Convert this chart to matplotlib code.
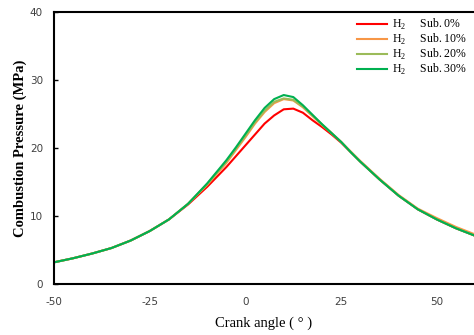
import matplotlib
matplotlib.use("Agg")
import matplotlib.pyplot as plt

# crank angle (deg) and combustion pressure (MPa)
angle = [-50, -45, -40, -35, -30, -25, -20, -15, -10, -5, -2.5, 0, 2.5, 5, 7.5,
         10, 12.5, 15, 17.5, 20, 22.5, 25, 27.5, 30, 35, 40, 45, 50, 55, 60]
p_sub0 = [3.2, 3.8, 4.5, 5.3, 6.4, 7.8, 9.5, 11.7, 14.3, 17.2, 18.8, 20.4, 22.0, 23.6, 24.8,
          25.7, 25.8, 25.2, 24.1, 23.1, 22.0, 20.8, 19.4, 18.0, 15.4, 13.0, 11.0, 9.5, 8.2, 7.1]
p_sub10 = [3.2, 3.8, 4.5, 5.3, 6.4, 7.8, 9.5, 11.8, 14.6, 17.8, 19.7, 21.6, 23.6, 25.3, 26.6,
           27.2, 27.0, 26.0, 24.7, 23.4, 22.2, 20.9, 19.5, 18.1, 15.5, 13.1, 11.1, 9.7, 8.4, 7.3]
p_sub20 = [3.2, 3.8, 4.5, 5.3, 6.4, 7.8, 9.5, 11.8, 14.7, 18.0, 19.9, 21.8, 23.8, 25.5, 26.8,
           27.3, 27.1, 26.1, 24.8, 23.5, 22.2, 20.9, 19.4, 18.0, 15.4, 13.0, 11.0, 9.5, 8.2, 7.1]
p_sub30 = [3.2, 3.8, 4.5, 5.3, 6.4, 7.8, 9.5, 11.8, 14.8, 18.2, 20.1, 22.1, 24.1, 25.9, 27.2,
           27.8, 27.5, 26.3, 24.9, 23.5, 22.2, 20.9, 19.4, 18.0, 15.4, 13.0, 11.0, 9.5, 8.2, 7.1]
labels = ["Sub. 0%", "Sub. 10%", "Sub. 20%", "Sub. 30%"]
colors = ["#ff0000", "#f79646", "#9bbb59", "#00b050"]
xticks = [-50, -25, 0, 25, 50]
yticks = [0, 10, 20, 30, 40]

plt.rcParams["mathtext.fontset"] = "custom"
plt.rcParams["mathtext.rm"] = "Liberation Serif"

fig = plt.figure(figsize=(4.74, 3.35), dpi=100)
ax = fig.add_axes([0.114, 0.152, 0.886, 0.812])

for p, lab, c in zip([p_sub0, p_sub10, p_sub20, p_sub30], labels, colors):
    ax.plot(angle, p, color=c, lw=1.5, label="H$_2$     " + lab)

ax.set_xlim(-50, 59.7)
ax.set_ylim(0, 40)
ax.set_xticks(xticks)
ax.set_xticklabels([str(v) for v in xticks])  # plain hyphen like the original
ax.set_yticks(yticks)
ax.set_yticklabels([str(v) for v in yticks])
ax.tick_params(axis="x", length=0, pad=9, labelsize=7.5, labelcolor="#404040")
ax.tick_params(axis="y", direction="in", length=3, width=1, pad=8,
               labelsize=7.5, labelcolor="#404040")

for s in ["left", "top", "bottom"]:
    ax.spines[s].set_linewidth(1.5)
ax.spines["right"].set_visible(False)

ax.set_xlabel("Crank angle ( ° )", family="Liberation Serif", fontsize=10.5, labelpad=7)
ax.set_ylabel("Combustion Pressure (MPa)", family="Liberation Serif",
              fontweight="bold", fontsize=10.5, labelpad=2)

leg = ax.legend(loc="upper right", frameon=False,
                prop={"family": "Liberation Serif", "size": 8.5},
                handlelength=2.6, handletextpad=0.4, labelspacing=0.0,
                borderaxespad=0.0, bbox_to_anchor=(0.995, 1.0))

fig.savefig("out.png", dpi=100)
